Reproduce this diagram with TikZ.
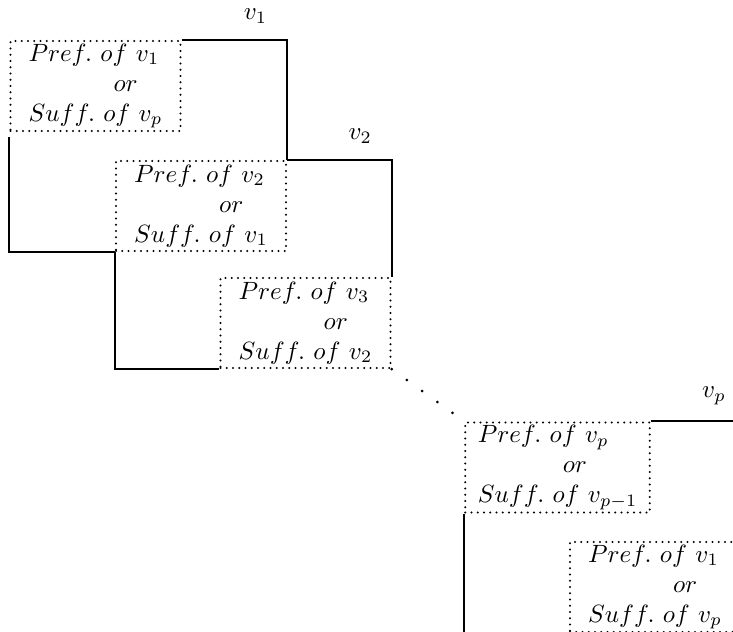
\documentclass[tikz,border=0pt]{standalone}
\usetikzlibrary{positioning}
\newcommand{\prefsuff}[2]{$Pref.\ of\ #1$\\\hspace*{34pt}$or$\\$Suff.\ of\ #2$}
\begin{document}
\begin{tikzpicture}[x=0.4pt,y=-0.4pt,
	blok/.style={draw,line width=0.9pt,line cap=round,dash pattern=on 0pt off 2.5pt,align=left,inner xsep=5pt,inner ysep=1pt,minimum width=68pt,minimum height=36pt},
	seg/.style={thick},
	lbl/.style={above=3pt,pos=0.7}]
	\useasboundingbox (0,0) rectangle (733,632);
	\clip (0,0) rectangle (733,632);
	
	\node[blok] (b1) at (95.5,86) {\prefsuff{v_1}{v_p}};
	\node[blok] (b2) at (201,206) {\prefsuff{v_2}{v_1}};
	\node[blok] (b3) at (305.5,323) {\prefsuff{v_3}{v_2}};
	\node[blok] (bp) at (557.5,467.5) {\prefsuff{v_p}{v_{p-1}}};
	\node[blok] (bq) at (655,587) {\prefsuff{v_1}{v_p}};
	
	\draw[seg] (b1.north east) -- node[lbl] {$v_1$} (b1.north east -| b2.north east) -- (b2.north east);
	\draw[seg] (b2.north east) -- node[lbl] {$v_2$} (b2.north east -| b3.north east) -- (b3.north east);
	\draw[seg] (bp.north east) -- node[lbl] {$v_p$} (bp.north east -| bq.north east) -- (bq.north east);
	
	\draw[seg,shorten <=2pt] (b1.south west) -- (b1.south west |- b2.south west) -- (b2.south west);
	\draw[seg] (b2.south west) -- (b2.south west |- b3.south west) -- (b3.south west);
	\draw[seg] (bp.south west) -- (bp.south west |- bq.south west) -- (bq.south west);
	
	\draw[line width=1.2pt,line cap=round,dash pattern=on 0pt off 7.5pt,shorten >=2pt] (b3.south east) -- (bp.north west);
\end{tikzpicture}
\end{document}
